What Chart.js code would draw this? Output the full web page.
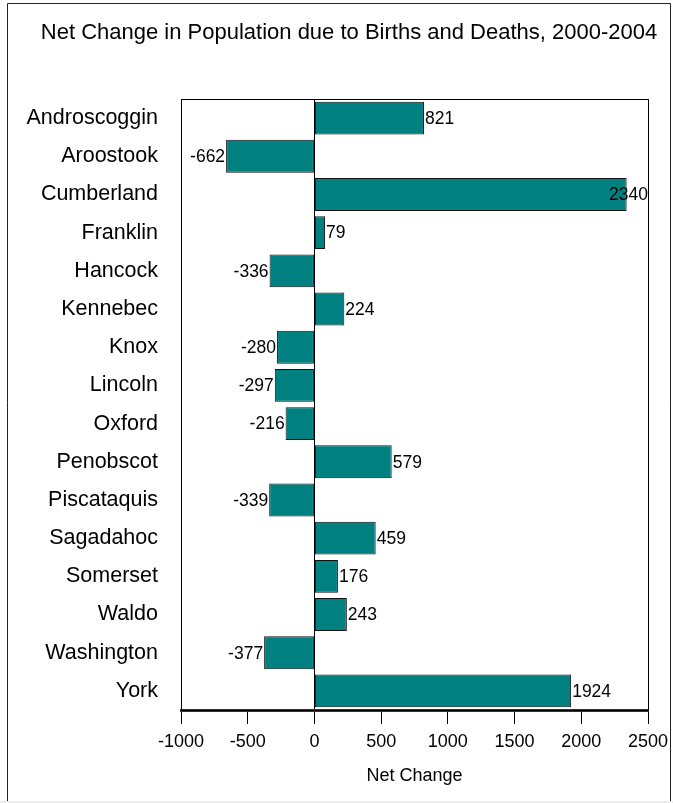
<!DOCTYPE html>
<html>
<head>
    <title>Net Change in Population due to Births and Deaths, 2000-2004</title>
    <script src="https://cdn.jsdelivr.net/npm/chart.js"></script>
    <style>
        body { margin: 0; background: #fff; }
        canvas { display: block; }
    </style>
</head>
<body>
    <canvas id="popChart" width="673" height="803"></canvas>

    <script>
        // Data
        const counties = ["Androscoggin", "Aroostook", "Cumberland", "Franklin", "Hancock", "Kennebec",
            "Knox", "Lincoln", "Oxford", "Penobscot", "Piscataquis", "Sagadahoc", "Somerset",
            "Waldo", "Washington", "York"];
        const netChange = [821, -662, 2340, 79, -336, 224, -280, -297, -216, 579, -339, 459, 176, 243, -377, 1924];
        const xTicks = [-1000, -500, 0, 500, 1000, 1500, 2000, 2500];

        const fontFamily = "'Liberation Sans', Arial, sans-serif";

        // Frame round the whole picture and the box round the plot
        const framePlugin = {
            id: "frame",
            beforeDatasetsDraw(chart) {
                const { ctx, chartArea: a } = chart;
                ctx.save();
                ctx.strokeStyle = "#000";
                ctx.lineWidth = 1;
                ctx.strokeRect(Math.round(a.left) + 0.5, Math.round(a.top) + 0.5,
                    Math.round(a.right - a.left), Math.round(a.bottom - a.top));
                ctx.restore();
            },
            afterDraw(chart) {
                const ctx = chart.ctx;
                ctx.save();
                ctx.strokeStyle = "#222";
                ctx.lineWidth = 1;
                ctx.beginPath();
                ctx.moveTo(7.5, 801);
                ctx.lineTo(7.5, 3.5);
                ctx.lineTo(670.5, 3.5);
                ctx.lineTo(670.5, 801);
                ctx.stroke();
                ctx.fillStyle = "#eeeeee";
                ctx.fillRect(0, 801, 673, 2);
                ctx.restore();
            }
        };

        // Value labels at the end of each bar
        const valueLabels = {
            id: "valueLabels",
            afterDatasetsDraw(chart) {
                const { ctx, chartArea } = chart;
                const meta = chart.getDatasetMeta(0);
                ctx.save();
                ctx.font = "17.5px " + fontFamily;
                ctx.fillStyle = "#000";
                ctx.textBaseline = "middle";
                ctx.textAlign = "left";
                meta.data.forEach((bar, i) => {
                    const v = netChange[i];
                    const text = String(v);
                    const w = ctx.measureText(text).width;
                    let x;
                    if (v >= 0) {
                        x = bar.x + 1;
                        if (x + w > chartArea.right) x = chartArea.right - w;
                    } else {
                        x = bar.x - 1 - w;
                    }
                    ctx.fillText(text, x, bar.y + 1);
                });
                ctx.restore();
            }
        };

        const ctx = document.getElementById("popChart").getContext("2d");

        new Chart(ctx, {
            type: "bar",
            data: {
                labels: counties,
                datasets: [{
                    label: "Net Change",
                    data: netChange,
                    backgroundColor: "#008080",
                    borderColor: "#111",
                    borderWidth: 1,
                    borderSkipped: false,
                    barPercentage: 0.86,
                    categoryPercentage: 1.0,
                }],
            },
            options: {
                indexAxis: "y",
                responsive: false,
                animation: false,
                layout: {
                    padding: { left: 25, right: 0, top: 0, bottom: 0 },
                },
                plugins: {
                    legend: { display: false },
                    tooltip: { enabled: false },
                    title: {
                        display: true,
                        text: "Net Change in Population due to Births and Deaths, 2000-2004",
                        color: "#000",
                        font: { family: fontFamily, size: 22, weight: "normal" },
                        padding: { top: 20, bottom: 52.6 },
                    },
                },
                scales: {
                    x: {
                        type: "linear",
                        min: xTicks[0],
                        max: xTicks[xTicks.length - 1],
                        afterBuildTicks(scale) {
                            scale.ticks = xTicks.map(v => ({ value: v }));
                        },
                        afterFit(scale) {
                            scale.height = 93;
                            scale.paddingLeft = 0;
                            scale.paddingRight = 25;
                        },
                        ticks: {
                            color: "#000",
                            font: { family: fontFamily, size: 18 },
                            padding: 7,
                            maxRotation: 0,
                            callback: v => String(v),
                        },
                        grid: {
                            display: true,
                            drawOnChartArea: true,
                            drawTicks: true,
                            tickLength: 14,
                            tickColor: "#000",
                            color: c => (c.tick && c.tick.value === 0) ? "#000" : "rgba(0,0,0,0)",
                            lineWidth: 1,
                        },
                        border: { display: true, color: "#333", width: 3 },
                        title: {
                            display: true,
                            text: "Net Change",
                            color: "#000",
                            font: { family: fontFamily, size: 18 },
                            padding: { top: 0, bottom: 16 },
                        },
                    },
                    y: {
                        afterFit(scale) {
                            scale.width = 156;
                            scale.paddingTop = 0;
                            scale.paddingBottom = 0;
                        },
                        ticks: {
                            color: "#000",
                            font: { family: fontFamily, size: 21.5 },
                            padding: 23,
                            autoSkip: false,
                        },
                        grid: { display: false, drawTicks: false },
                        border: { display: true, color: "#000", width: 1 },
                    },
                },
            },
            plugins: [framePlugin, valueLabels],
        });
    </script>
</body>
</html>
